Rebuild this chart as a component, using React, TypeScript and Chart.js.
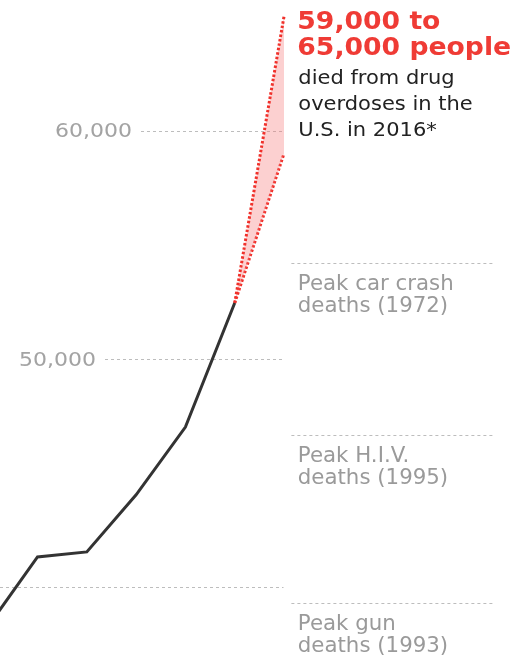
import React, { useEffect, useRef } from "react";
import { Chart, registerables } from "chart.js";

Chart.register(...registerables);

// ---- Data ----
const years = [2010, 2011, 2012, 2013, 2014, 2015];
const overdoseDeaths = [38300, 41330, 41550, 44050, 47020, 52450];
const estimateYear = 2016;
const estimateLow = 59000;
const estimateHigh = 65000;

const gridValues = [40000, 50000, 60000];
const tickLabels = ["", "50,000", "60,000"];

const referenceValues = [54200, 46650, 39300];
const referenceLabels = [
  ["Peak car crash", "deaths (1972)"],
  ["Peak H.I.V.", "deaths (1995)"],
  ["Peak gun", "deaths (1993)"],
];

const headlineLines = ["59,000 to", "65,000 people"];
const subLines = ["died from drug", "overdoses in the", "U.S. in 2016*"];

const FONT = '"DejaVu Sans", Verdana, sans-serif';

function drawStretched(ctx: CanvasRenderingContext2D, text: string, x: number, y: number, sx: number, align: "left" | "right" = "left") {
  ctx.save();
  ctx.translate(x, y);
  ctx.scale(sx, 1);
  ctx.textAlign = align;
  ctx.fillText(text, 0, 0);
  ctx.restore();
}

const annotationPlugin = {
  id: "nytAnnotations",
  beforeDatasetsDraw(chart: any) {
    const ctx: CanvasRenderingContext2D = chart.ctx;
    const xs = chart.scales.x;
    const ys = chart.scales.y;
    ctx.save();
    // grid lines with inline labels
    const gridStartPx = [0, 105, 141];
    const gridEnd = xs.getPixelForValue(2015.99);
    ctx.strokeStyle = "#bdbdbd";
    ctx.lineWidth = 1;
    ctx.setLineDash([3, 3]);
    gridValues.forEach((v, i) => {
      const y = Math.round(ys.getPixelForValue(v)) + 0.5;
      ctx.beginPath();
      ctx.moveTo(gridStartPx[i], y);
      ctx.lineTo(gridEnd, y);
      ctx.stroke();
    });
    ctx.setLineDash([]);
    ctx.fillStyle = "#a3a3a3";
    ctx.font = `20px ${FONT}`;
    ctx.textBaseline = "alphabetic";
    gridValues.forEach((v, i) => {
      if (!tickLabels[i]) return;
      const y = ys.getPixelForValue(v);
      drawStretched(ctx, tickLabels[i], gridStartPx[i] - 9, y + 6.5, 1.1, "right");
    });

    // reference lines
    const refStart = xs.getPixelForValue(2016.15);
    const refEnd = xs.getPixelForValue(2020.24);
    const textX = xs.getPixelForValue(2016.28);
    ctx.strokeStyle = "#bdbdbd";
    ctx.setLineDash([3, 3]);
    referenceValues.forEach((v) => {
      const y = Math.round(ys.getPixelForValue(v)) + 0.5;
      ctx.beginPath();
      ctx.moveTo(refStart, y);
      ctx.lineTo(refEnd, y);
      ctx.stroke();
    });
    ctx.setLineDash([]);
    ctx.fillStyle = "#9a9a9a";
    ctx.font = `20.5px ${FONT}`;
    referenceValues.forEach((v, i) => {
      const y = ys.getPixelForValue(v);
      referenceLabels[i].forEach((line, j) => {
        drawStretched(ctx, line, textX, y + 26.5 + j * 22.5, 1.04);
      });
    });

    // headline annotation
    const hx = xs.getPixelForValue(2016.27);
    ctx.fillStyle = "#ef3b35";
    ctx.font = `bold 24px ${FONT}`;
    headlineLines.forEach((line, j) => {
      drawStretched(ctx, line, hx, 29 + j * 26, 1.11);
    });
    ctx.fillStyle = "#222222";
    ctx.font = `20px ${FONT}`;
    subLines.forEach((line, j) => {
      drawStretched(ctx, line, hx + 1, 84 + j * 26, 1.05);
    });
    ctx.restore();
  },
};

export default function App() {
  const canvasRef = useRef<HTMLCanvasElement | null>(null);

  useEffect(() => {
    if (!canvasRef.current) return;
    const last = { x: years[years.length - 1], y: overdoseDeaths[overdoseDeaths.length - 1] };
    const chart = new Chart(canvasRef.current, {
      type: "line",
      data: {
        datasets: [
          {
            label: "Overdose deaths",
            data: years.map((y, i) => ({ x: y, y: overdoseDeaths[i] })),
            borderColor: "#333333",
            borderWidth: 3,
            pointRadius: 0,
            tension: 0,
            fill: false,
            order: 1,
          },
          {
            label: "High estimate",
            data: [last, { x: estimateYear, y: estimateHigh }],
            borderColor: "#f0302a",
            borderWidth: 3,
            borderDash: [2.5, 2],
            pointRadius: 0,
            tension: 0,
            fill: "+1",
            backgroundColor: "rgba(245, 120, 120, 0.35)",
            order: 2,
          },
          {
            label: "Low estimate",
            data: [last, { x: estimateYear, y: estimateLow }],
            borderColor: "#f0302a",
            borderWidth: 3,
            borderDash: [2.5, 2],
            pointRadius: 0,
            tension: 0,
            fill: false,
            order: 2,
          },
        ],
      },
      options: {
        responsive: false,
        animation: false,
        layout: { padding: 0 },
        plugins: {
          legend: { display: false },
          tooltip: { enabled: false },
        },
        scales: {
          x: { type: "linear", display: false, min: 2010.239, max: 2020.889 },
          y: { type: "linear", display: false, min: 36947, max: 65725 },
        },
      },
      plugins: [annotationPlugin],
    });
    return () => chart.destroy();
  }, []);

  return (
    <div style={{ position: "fixed", left: 0, top: 0, width: 525, height: 657, background: "#fff" }}>
      <canvas ref={canvasRef} width={525} height={657} style={{ display: "block" }} />
    </div>
  );
}
